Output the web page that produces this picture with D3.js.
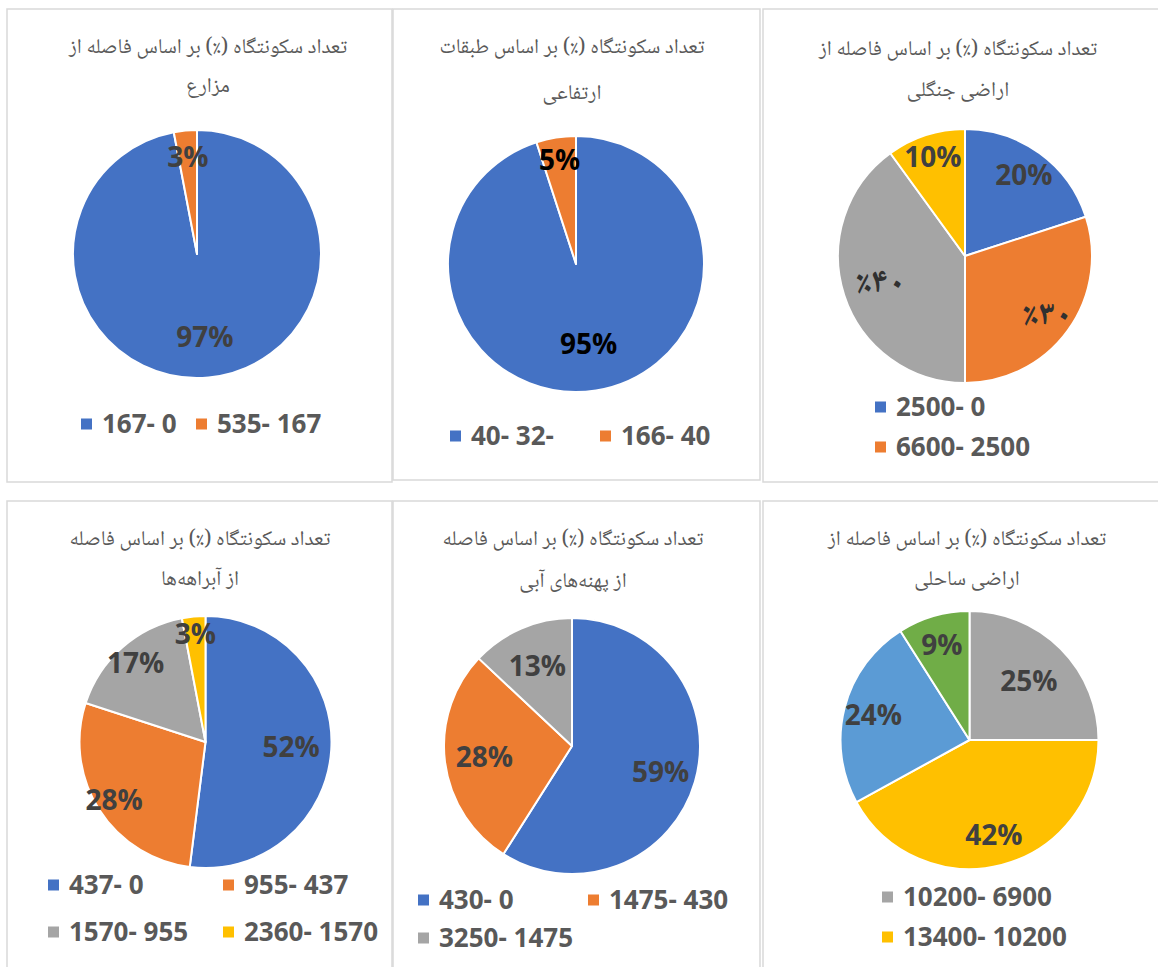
<!DOCTYPE html>
<html>
<head>
<meta charset="utf-8">
<script src="https://cdn.jsdelivr.net/npm/d3@7/dist/d3.min.js"></script>
<style>
  html, body { margin: 0; padding: 0; background: #ffffff; }
  svg { display: block; }
</style>
</head>
<body>
<svg id="chart" width="1158" height="967"></svg>
<script>
// ---------- DATA ----------
const titles = [
  ["تعداد سکونتگاه (٪) بر اساس فاصله از", "مزارع"],
  ["تعداد سکونتگاه (٪) بر اساس طبقات", "ارتفاعی"],
  ["تعداد سکونتگاه (٪) بر اساس فاصله از", "اراضی جنگلی"],
  ["تعداد سکونتگاه (٪) بر اساس  فاصله", "از آبراهه‌ها"],
  ["تعداد سکونتگاه (٪) بر اساس فاصله", "از  پهنه‌های آبی"],
  ["تعداد سکونتگاه (٪) بر اساس  فاصله از", "اراضی ساحلی"]
];

const categories1 = ["167- 0", "535- 167"];
const values1 = [97, 3];
const labels1 = ["97%", "3%"];

const categories2 = ["40- 32-", "166- 40"];
const values2 = [95, 5];
const labels2 = ["95%", "5%"];

const categories3 = ["2500- 0", "6600- 2500", "", ""];
const values3 = [20, 30, 40, 10];
const labels3 = ["20%", "٪۳۰", "٪۴۰", "10%"];
const legendShown3 = [0, 1];

const categories4 = ["437- 0", "955- 437", "1570- 955", "2360- 1570"];
const values4 = [52, 28, 17, 3];
const labels4 = ["52%", "28%", "17%", "3%"];

const categories5 = ["430- 0", "1475- 430", "3250- 1475"];
const values5 = [59, 28, 13];
const labels5 = ["59%", "28%", "13%"];

const categories6 = ["10200- 6900", "13400- 10200", "", ""];
const values6 = [25, 42, 24, 9];
const labels6 = ["25%", "42%", "24%", "9%"];
const legendShown6 = [0, 1];

// ---------- STYLE / LAYOUT ----------
const C = { blue: "#4472C4", orange: "#ED7D31", gray: "#A5A5A5", yellow: "#FFC000", lblue: "#5B9BD5", green: "#70AD47" };
const arabicFont = "'Noto Naskh Arabic','Noto Sans Arabic','DejaVu Sans',sans-serif";
const latinFont = "'Open Sans','Noto Sans',sans-serif";

const panels = [
  { box: [7, 9, 392, 482], cx: 197, cy: 254, r: 124, title: [208, 53, 92],
    cats: categories1, vals: values1, labs: labels1, colors: [C.blue, C.orange],
    labelK: [0.67, 0.79], labelColor: "#404040",
    legendShown: [0, 1], legendPos: [[81, 424], [196, 424]] },
  { box: [393, 9, 760, 480], cx: 576, cy: 264, r: 128, title: [572, 53, 99],
    cats: categories2, vals: values2, labs: labels2, colors: [C.blue, C.orange],
    labelK: [0.63, 0.82], labelColor: "#000000",
    legendShown: [0, 1], legendPos: [[450, 436], [600, 436]] },
  { box: [763, 9, 1160, 482], cx: 965, cy: 256, r: 127, title: [958, 55, 96],
    cats: categories3, vals: values3, labs: labels3, colors: [C.blue, C.orange, C.gray, C.yellow],
    labelK: [0.79, 0.80, 0.70, 0.82], labelColor: "#404040", persianLabels: [1, 2],
    legendShown: legendShown3, legendPos: [[875, 407], [875, 447]] },
  { box: [7, 501, 392, 970], cx: 205.5, cy: 742, r: 126, title: [200, 545, 585],
    cats: categories4, vals: values4, labs: labels4, colors: [C.blue, C.orange, C.gray, C.yellow],
    labelK: [0.68, 0.86, 0.84, 0.86], labelColor: "#404040",
    legendShown: [0, 1, 2, 3], legendPos: [[48, 885], [223, 885], [48, 932], [223, 932]] },
  { box: [393, 501, 760, 970], cx: 572, cy: 746, r: 128, title: [573, 545, 587],
    cats: categories5, vals: values5, labs: labels5, colors: [C.blue, C.orange, C.gray],
    labelK: [0.72, 0.69, 0.68], labelColor: "#404040",
    legendShown: [0, 1, 2], legendPos: [[418, 900], [588, 900], [418, 938]] },
  { box: [763, 501, 1160, 970], cx: 969.5, cy: 740, r: 129, title: [967, 545, 585],
    cats: categories6, vals: values6, labs: labels6, colors: [C.gray, C.yellow, C.lblue, C.green],
    labelK: [0.65, 0.76, 0.77, 0.77], labelColor: "#404040",
    legendShown: legendShown6, legendPos: [[882, 897], [882, 937]] }
];

const svg = d3.select("#chart");

const pie = d3.pie().sort(null).value(d => d).startAngle(0).endAngle(2 * Math.PI);

panels.forEach((p, pi) => {
  const g = svg.append("g");
  // panel border
  g.append("rect")
    .attr("x", p.box[0]).attr("y", p.box[1])
    .attr("width", p.box[2] - p.box[0]).attr("height", p.box[3] - p.box[1])
    .attr("fill", "#ffffff").attr("stroke", "#d9d9d9").attr("stroke-width", 1.5);

  // title
  titles[pi].forEach((t, li) => {
    g.append("text")
      .attr("x", p.title[0]).attr("y", p.title[1 + li])
      .attr("text-anchor", "middle")
      .attr("direction", "rtl")
      .style("font-family", arabicFont)
      .style("font-size", "21px")
      .attr("fill", "#595959")
      .text(t);
  });

  const color = d3.scaleOrdinal().domain(d3.range(p.vals.length)).range(p.colors);
  const arcs = pie(p.vals);
  const arc = d3.arc().innerRadius(0).outerRadius(p.r);
  const pg = g.append("g").attr("transform", `translate(${p.cx},${p.cy})`);

  pg.selectAll("path").data(arcs).join("path")
    .attr("d", arc)
    .attr("fill", (d, i) => color(i))
    .attr("stroke", "#ffffff").attr("stroke-width", 2).attr("stroke-linejoin", "round");

  const isFa = i => p.persianLabels && p.persianLabels.includes(i);
  pg.selectAll("text").data(arcs).join("text")
    .attr("transform", (d, i) => {
      const k = p.labelK[i] * p.r;
      const c = d3.arc().innerRadius(k).outerRadius(k).centroid(d);
      return `translate(${c[0]},${c[1]})`;
    })
    .attr("text-anchor", "middle")
    .attr("dy", (d, i) => isFa(i) ? "0.25em" : "0.36em")
    .style("font-family", (d, i) => isFa(i) ? arabicFont : latinFont)
    .style("font-weight", "bold")
    .style("font-size", (d, i) => isFa(i) ? "34px" : "28px")
    .attr("fill", (d, i) => isFa(i) ? "#303030" : p.labelColor)
    .text((d, i) => p.labs[i]);

  // legend
  p.legendShown.forEach((ci, li) => {
    const [mx, my] = p.legendPos[li];
    g.append("rect")
      .attr("x", mx).attr("y", my - 5.5).attr("width", 11).attr("height", 11)
      .attr("fill", color(ci));
    g.append("text")
      .attr("x", mx + 21).attr("y", my).attr("dy", "0.36em")
      .style("font-family", latinFont).style("font-weight", "bold").style("font-size", "26px")
      .attr("fill", "#595959")
      .text(p.cats[ci]);
  });
});
</script>
</body>
</html>
